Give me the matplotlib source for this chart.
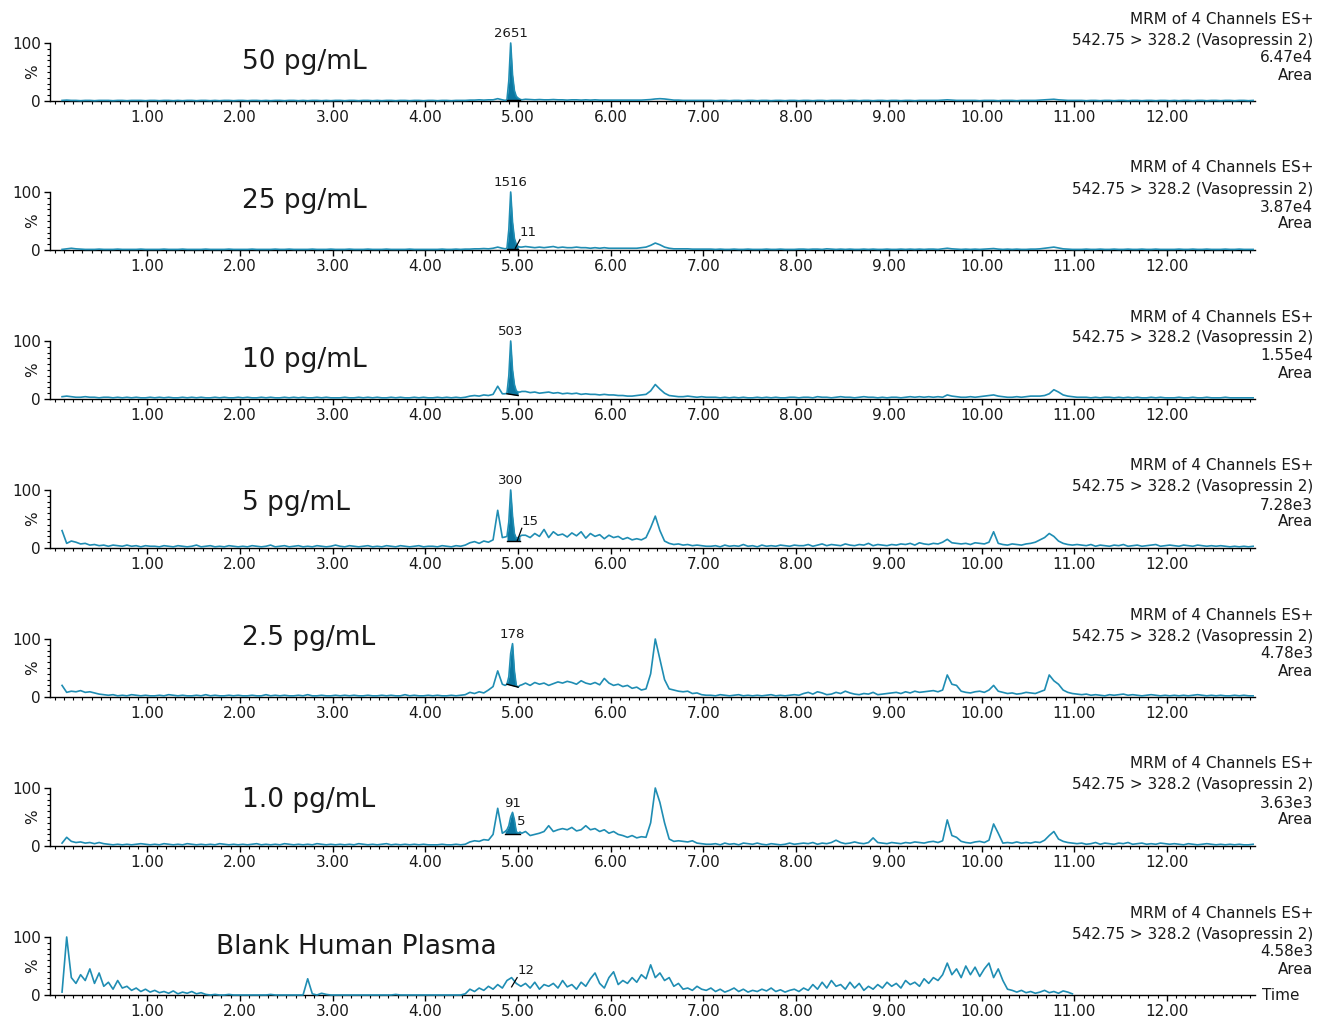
import numpy as np
import matplotlib
matplotlib.use("Agg")
import matplotlib.pyplot as plt
from matplotlib.ticker import FixedLocator, MultipleLocator, FormatStrFormatter

# ---------------------------------------------------------------- data
samples = ["50 pg/mL", "25 pg/mL", "10 pg/mL", "5 pg/mL", "2.5 pg/mL",
           "1.0 pg/mL", "Blank Human Plasma"]
scale_labels = ["6.47e4", "3.87e4", "1.55e4", "7.28e3", "4.78e3", "3.63e3", "4.58e3"]
peak_areas = ["2651", "1516", "503", "300", "178", "91", None]
minor_areas = [None, "11", None, "15", None, "5", "12"]
x_tick_values = list(range(1, 13))

# acquisition grid of the traces (min)
T_START, T_STEP = 0.08, 0.05

# relative intensity (%) on the acquisition grid, one row per minute
trace_50 = """
1 1.5 1 1 0.5 1 1 0.5 1 1 1 0.5 1 1 0.5 1 1 1 0.5 1
1 0.5 1 1 0.5 1 0.5 1 1 0.5 1 1 0.5 1 0.5 1 1 0.5 1 1
0.5 1 1 0.5 1 0.5 1 1 0.5 1 1 0.5 1 0.5 1 1 0.5 1 0.5 1
1 0.5 1 1 0.5 1 1 0.5 1 0.5 1 1 0.5 1 1 0.5 1 1 0.5 1
1 0.5 1 1 0.5 1 1 1 1.5 1.5 2 1.5 2 2 4 2 2 30 6 3
3 2.5 2 2.5 2 2 2.5 2 2 1.5 2 2 1.5 2 1.5 2 1.5 1.5 1.5 1.5
1.5 1.5 1.5 1.5 1.5 1.5 2 2.5 3.5 4 3.5 2.5 1.5 1.5 1 1 1 1 1 1
1 0.5 1 1 0.5 1 1 0.5 1 1 0.5 1 1 0.5 1 1 0.5 1 1 0.5
1 1 0.5 1 1 0.5 1 1 1 0.5 1 1 0.5 1 1 0.5 1 1 0.5 1
1 0.5 1 1 0.5 1 1 1 1 1 1.5 2 1.5 1 1 1 1 1 0.5 1
1 1 0.5 1 1 1 0.5 1 1 1 1 1.5 2 2.5 3 2 1.5 1 1 1
1 0.5 1 1 0.5 1 1 0.5 1 1 0.5 1 1 0.5 1 1 0.5 1 1 0.5
1 0.5 1 1 0.5 1 1 0.5 1 1 0.5 1 1 0.5 1 1 0.5 1
"""

trace_25 = """
1 2 3 2 1.5 1 1 1 1.5 1 1 1 1.5 1 1 1 1 1.5 1 1
1 1 1.5 1 1 1 1.5 1 1 1 1 1.5 1 1 1 1 1.5 1 1 1
1 1.5 1 1 1 1 1.5 1 1 1.5 1 1 1 1 1.5 1 1 1 1.5 1
1 1 1.5 1 1 1 1.5 1 1 1 1.5 1 1 1 1 1.5 1 1 1 1
1 1 1.5 1 1 1.5 1 1.5 1.5 2 2 2.5 2 3 5 3 3 30 8 5
6 5 4 5 4 5 6 4 5 4 4 5 4 4 3 4 3 4 3 3
3 3 3 3 3 4 5 8 12 9 5 3 2 2 2 2 1.5 1.5 1.5 1.5
1.5 1 1.5 1 1 1.5 1 1 1.5 1 1 1 1.5 1 1 1.5 1 1 1 1.5
1.5 1 1.5 1.5 1 2 1.5 1 1.5 1 1.5 1 1 1.5 1 1.5 1 1 1.5 1
1 1.5 1 1.5 1 1.5 1 1.5 1.5 1 2 3 2 1.5 1 1.5 1 1.5 1 1.5
2 2.5 1.5 1 1.5 1 1.5 1 1 1.5 1.5 2 3 4 5 3.5 2 1.5 1 1
1 1.5 1 1 1.5 1 1 1.5 1 1 1.5 1 1 1.5 1 1 1.5 1 1 1
1 1.5 1 1 1.5 1 1 1.5 1 1 1 1.5 1 1 1.5 1 1 1
"""

trace_10 = """
4 5 4 3 3 4 3 3 2 3 3 2 3 2 3 2 3 2 2 3
2 3 2 3 2 2 3 2 3 2 3 2 2 3 2 3 2 2 3 2
3 2 2 3 2 3 2 2 3 2 3 2 3 2 2 3 2 3 2 2
2 3 2 2 3 2 3 2 3 2 2 3 2 3 2 2 3 2 3 2
2 3 2 3 2 3 2 3 5 6 5 7 6 8 22 9 10 40 12 12
13 11 12 10 11 12 10 11 9 10 9 10 8 9 8 8 7 8 7 7
6 6 5 5 6 7 8 14 25 17 10 6 5 4 4 5 4 3 4 3
3 3 2 3 2 3 2 3 2 2 3 2 3 2 3 2 2 3 3 2
3 3 2 4 3 3 2 3 4 3 3 2 3 4 3 3 2 3 2 3
3 2 3 4 3 4 3 4 3 4 3 7 5 4 3 3 4 3 4 5
6 7 5 4 3 3 4 3 4 5 5 5 6 9 16 12 7 5 4 3
3 3 2 3 2 3 3 2 3 2 3 2 3 2 2 3 2 3 2 2
2 3 2 2 3 2 2 3 2 2 2 3 2 2 2 2 2 2
"""

trace_5 = """
30 8 12 10 7 8 5 6 4 5 3 5 4 3 5 3 4 2 4 3
3 2 4 3 2 4 3 2 3 5 2 3 4 2 3 2 4 3 2 3
2 4 3 2 3 5 2 3 4 2 3 4 2 3 2 4 3 2 3 5
3 2 4 3 2 3 4 2 3 2 4 3 2 4 3 2 3 4 2 3
3 2 4 3 2 4 3 5 9 11 8 12 10 14 65 18 20 60 18 20
22 18 25 20 32 18 28 22 24 19 26 21 28 17 25 20 23 16 22 18
20 15 18 14 16 14 18 35 55 30 12 8 6 7 5 6 4 5 4 3
3 4 2 5 3 4 3 6 3 4 2 5 3 4 3 5 4 3 5 4
4 6 3 5 7 4 6 5 4 7 5 4 6 5 8 4 6 5 4 6
5 7 6 8 5 9 7 6 8 7 10 15 9 8 7 8 6 9 8 7
10 28 8 6 5 7 6 5 7 8 10 14 18 25 20 12 8 6 5 6
5 4 6 3 5 4 3 5 4 6 3 4 5 3 4 5 6 3 4 5
4 3 5 4 3 5 4 3 4 3 4 3 2 3 2 3 2 3
"""

trace_2_5 = """
20 8 10 9 11 8 9 7 5 4 3 4 2 3 2 4 3 2 3 2
2 3 2 4 3 2 3 2 2 3 2 4 2 3 2 2 3 2 3 2
2 3 2 2 4 2 3 2 3 2 2 3 2 4 2 2 3 2 2 3
2 3 2 3 2 2 3 2 2 3 2 3 2 2 4 2 3 2 2 3
2 3 2 2 3 2 3 4 8 6 9 7 12 18 45 22 22 70 17 20
24 20 25 22 24 20 23 26 24 27 25 22 28 24 22 25 21 32 24 20
22 18 20 15 17 12 14 40 100 65 30 14 12 10 9 10 6 7 4 3
3 2 4 3 2 3 4 2 3 2 3 2 3 4 2 3 2 3 4 3
6 8 5 9 7 4 5 8 6 10 7 5 4 6 5 8 4 5 6 7
8 6 9 7 10 8 9 10 11 9 12 38 22 20 10 8 7 9 10 8
12 20 10 8 6 7 5 6 8 7 6 9 12 38 28 22 12 8 6 5
4 5 3 4 3 2 4 3 4 5 3 4 3 2 3 4 3 2 3 2
3 2 3 2 3 4 3 2 3 2 3 2 2 3 2 3 2 2
"""

trace_1_0 = """
5 15 8 6 7 5 6 4 6 4 3 2 3 2 3 2 3 4 3 2
3 2 4 3 2 3 2 4 3 2 3 2 3 2 4 3 2 3 2 3
2 3 4 2 3 2 3 2 4 3 2 3 2 3 2 4 3 2 3 2
3 2 3 2 4 3 2 3 2 3 4 2 3 2 3 2 3 2 3 2
2 2 3 2 2 3 2 3 7 9 8 11 10 20 65 22 28 58 25 22
25 18 20 22 25 35 25 28 30 28 32 26 28 35 28 30 25 28 22 25
20 18 15 18 14 16 15 40 100 75 40 12 8 9 8 7 9 5 4 3
3 4 2 5 3 4 2 5 4 3 5 3 2 4 3 2 3 5 3 4
5 4 6 3 5 4 6 10 6 4 5 7 5 4 6 14 6 5 4 6
5 4 6 5 7 6 5 7 8 6 9 45 18 15 8 6 5 7 8 6
10 38 22 5 6 5 7 5 6 5 7 6 10 18 25 12 8 6 5 4
5 3 4 6 3 5 4 3 5 4 6 3 4 5 3 4 3 5 4 3
4 3 2 4 3 2 3 4 3 2 3 2 3 2 3 2 2 3
"""

trace_blank = """
5 100 30 20 35 25 45 20 38 15 22 10 25 12 15 8 12 6 10 5
8 4 6 3 7 2 5 3 6 2 4 1 0 1 0 0 1 0 0 0
0 0 0 0 0 1 0 0 0 0 0 0 0 28 2 0 3 1 0 0
0 0 0 0 0 0 0 0 0 0 0 0 1 0 0 0 0 0 0 0
0 0 0 0 0 0 0 2 10 6 12 8 15 10 18 12 25 30 20 15
20 12 22 10 18 15 20 12 25 14 18 10 22 15 28 38 20 12 30 40
18 25 20 30 22 35 28 52 30 38 25 30 15 20 10 12 8 15 10 8
12 6 10 5 8 12 6 10 5 8 6 10 7 12 6 9 5 8 10 6
12 8 18 10 22 12 25 15 18 10 22 12 20 8 15 10 18 12 22 15
20 12 25 18 22 15 28 20 30 25 35 55 35 45 30 50 35 48 32 45
55 30 45 25 10 8 5 8 4 6 3 5 8 4 6 3 7 5 2
"""

traces = [trace_50, trace_25, trace_10, trace_5, trace_2_5, trace_1_0, trace_blank]

# vasopressin peak, acquired at a finer step
peak_t = [4.86, 4.88, 4.90, 4.92, 4.94, 4.96, 4.98, 5.00, 5.02, 5.04]
peak_50 = [1, 2, 35, 100, 45, 18, 8, 5, 3, 2]
peak_25 = [2, 3, 35, 100, 48, 20, 10, 6, 5, 5]
peak_10 = [9, 10, 40, 100, 50, 25, 14, 12, 12, 13]
peak_5 = [19, 20, 45, 100, 55, 25, 17, 18, 20, 22]
peak_2_5 = [20, 22, 35, 75, 92, 45, 20, 17, 20, 21]
peak_1_0 = [25, 28, 35, 50, 58, 45, 25, 22, 24, 22]
peaks = [peak_50, peak_25, peak_10, peak_5, peak_2_5, peak_1_0, None]

# integration baselines: start/end time and start/end level (%)
base_t0 = [4.88, 4.88, 4.88, 4.88, 4.88, 4.86, None]
base_t1 = [5.02, 5.00, 5.00, 5.02, 5.00, 5.02, None]
base_y0 = [1, 2, 9, 12, 22, 21, None]
base_y1 = [1, 2, 6, 12, 17, 21, None]

# ---------------------------------------------------------------- style
W, H, DPI = 1318, 1018, 100
LINE = "#1f8db3"
FILL = "#0b76a0"
TXT = "#1a1a1a"
FONT = "DejaVu Sans"

plt.rcParams["font.family"] = FONT

fig = plt.figure(figsize=(W / DPI, H / DPI), dpi=DPI)

AX_LEFT, AX_RIGHT = 50, 1255       # pixel extent of the time axis
FIRST_TOP, PANEL_H, PITCH = 43, 58, 149
name_pos = [(242, 19), (242, 9), (242, 19), (242, 13), (242, -1), (242, 12), (216, 10)]
side_dy = [-24, -3, 15, 32]


def fx(px):
    return px / W


def fy(py):
    return 1 - py / H


for i in range(7):
    top = FIRST_TOP + i * PITCH
    ax = fig.add_axes([fx(AX_LEFT), fy(top + PANEL_H), fx(AX_RIGHT - AX_LEFT), PANEL_H / H])

    y = np.array(traces[i].split(), float)
    t = T_START + T_STEP * np.arange(len(y))
    if peaks[i] is not None:
        keep = (t < peak_t[0] - 1e-9) | (t > peak_t[-1] + 1e-9)
        t = np.concatenate([t[keep], peak_t])
        y = np.concatenate([y[keep], peaks[i]])
        order = np.argsort(t)
        t, y = t[order], y[order]

    ax.plot(t, y, color=LINE, lw=1.2, clip_on=False, zorder=3, solid_joinstyle="round")

    if peaks[i] is not None:
        b0, b1 = base_t0[i], base_t1[i]
        m = (t >= b0 - 1e-9) & (t <= b1 + 1e-9)
        base = np.interp(t[m], [b0, b1], [base_y0[i], base_y1[i]])
        ax.fill_between(t[m], base, y[m], where=y[m] >= base, color=FILL,
                        lw=0, zorder=2, interpolate=True)
        ax.plot([b0, b1], [base_y0[i], base_y1[i]], color="black", lw=1.0, zorder=4)
        k = int(np.argmax(peaks[i]))
        ax.annotate(peak_areas[i], (peak_t[k], peaks[i][k]), xytext=(0, 2),
                    textcoords="offset points", ha="center", va="bottom",
                    fontsize=9.5, color=TXT, annotation_clip=False)

    ax.set_xlim(-0.05, 12.95)
    ax.set_ylim(0, 100)

    for s in ("top", "right"):
        ax.spines[s].set_visible(False)
    for s in ("left", "bottom"):
        ax.spines[s].set_color("black")
        ax.spines[s].set_linewidth(1.0)
    ax.patch.set_alpha(0)

    ax.xaxis.set_major_locator(FixedLocator(x_tick_values))
    ax.xaxis.set_major_formatter(FormatStrFormatter("%.2f"))
    ax.xaxis.set_minor_locator(MultipleLocator(0.1))
    ax.yaxis.set_major_locator(FixedLocator([0, 100]))
    ax.yaxis.set_minor_locator(MultipleLocator(10))
    ax.tick_params(axis="both", which="major", direction="out", length=4.5,
                   width=1.0, labelsize=11, colors="black", labelcolor=TXT, pad=2)
    ax.tick_params(axis="both", which="minor", direction="out", length=2.5, width=0.8)

    fig.text(fx(33), fy(top + 29), "%", rotation=90, ha="center", va="center",
             fontsize=11, color=TXT)

    nx, ndy = name_pos[i]
    fig.text(fx(nx), fy(top + ndy), samples[i], ha="left", va="center",
             fontsize=19, color=TXT)

    side = ["MRM of 4 Channels ES+", "542.75 > 328.2 (Vasopressin 2)", scale_labels[i], "Area"]
    for line, dy in zip(side, side_dy):
        fig.text(fx(1313), fy(top + dy), line, ha="right", va="center",
                 fontsize=11, color=TXT)

    if minor_areas[i] is not None:
        mt = {1: (4.97, 3, 5.02, 18), 3: (4.99, 12, 5.04, 34),
              5: (4.99, 24, 4.99, 30), 6: (4.93, 14, 4.99, 30)}[i]
        if i != 5:
            ax.plot([mt[0], mt[2]], [mt[1], mt[3]], color="black", lw=0.9,
                    clip_on=False, zorder=4)
        ax.text(mt[2], mt[3] + 1, minor_areas[i], ha="left", va="bottom",
                fontsize=9.5, color=TXT, clip_on=False)

    if i == 6:
        fig.text(fx(1262), fy(top + PANEL_H + 1), "Time", ha="left", va="center",
                 fontsize=11, color=TXT)

fig.savefig("out.png", dpi=DPI)
